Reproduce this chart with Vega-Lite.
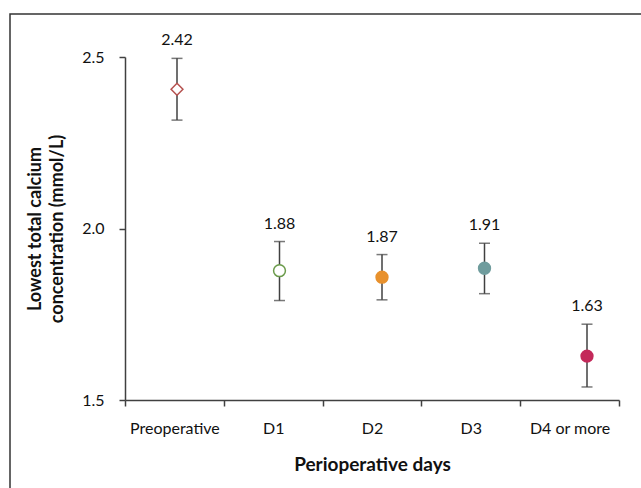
{
  "$schema": "https://vega.github.io/schema/vega-lite/v6.json",
  "autosize": "none",
  "padding": {"left": 10, "top": 14, "right": 0, "bottom": 0},
  "width": 640,
  "height": 480,
  "background": "white",
  "config": {
    "font": "Lato",
    "view": {"stroke": "#333333", "strokeWidth": 1.5}
  },
  "data": {
    "values": [
      {"day": "Preoperative", "mean": 2.406, "lo": 2.316, "hi": 2.496, "label": 2.42},
      {"day": "D1", "mean": 1.877, "lo": 1.790, "hi": 1.962, "label": 1.88},
      {"day": "D2", "mean": 1.858, "lo": 1.792, "hi": 1.924, "label": 1.87},
      {"day": "D3", "mean": 1.884, "lo": 1.810, "hi": 1.957, "label": 1.91},
      {"day": "D4 or more", "mean": 1.628, "lo": 1.538, "hi": 1.721, "label": 1.63}
    ]
  },
  "resolve": {"scale": {"x": "independent"}},
  "layer": [
    {
      "mark": {"type": "point", "opacity": 0},
      "encoding": {
        "x": {
          "field": "day", "type": "nominal", "sort": null,
          "scale": {"type": "band", "range": [115, 609], "paddingInner": 0, "paddingOuter": 0},
          "axis": {
            "title": "Perioperative days", "orient": "bottom", "offset": -94,
            "labelAngle": 0, "labelFontSize": 16, "labelColor": "#111111", "labelPadding": 14,
            "tickBand": "extent", "tickSize": 6, "tickColor": "#404040", "tickWidth": 1.5,
            "domainColor": "#404040", "domainWidth": 1.5, "grid": false,
            "titleFontSize": 19, "titleFontWeight": "bold", "titleColor": "#111111", "titlePadding": 19
          }
        },
        "y": {
          "field": "mean", "type": "quantitative",
          "scale": {"domain": [1.5, 2.5], "range": [386, 43], "zero": false, "nice": false},
          "axis": {
            "title": ["Lowest total calcium", "concentration (mmol/L)"], "orient": "left", "offset": -115,
            "values": [1.5, 2.0, 2.5], "format": ".1f",
            "labelFontSize": 16, "labelColor": "#111111", "labelPadding": 15,
            "tickSize": 6, "tickColor": "#404040", "tickWidth": 1.5,
            "domainColor": "#404040", "domainWidth": 1.5, "grid": false,
            "titleFontSize": 18, "titleFontWeight": "bold", "titleColor": "#111111", "titlePadding": 15, "titleLineHeight": 22
          }
        }
      }
    },
    {
      "encoding": {
        "x": {
          "field": "day", "type": "nominal", "sort": null,
          "scale": {"type": "point", "range": [167, 577], "padding": 0},
          "axis": null
        }
      },
      "layer": [
        {
          "mark": {"type": "rule", "color": "#404040", "strokeWidth": 1.5},
          "encoding": {
            "y": {"field": "lo", "type": "quantitative"},
            "y2": {"field": "hi"}
          }
        },
        {
          "mark": {"type": "tick", "color": "#404040", "size": 11, "thickness": 1.5, "orient": "horizontal"},
          "encoding": {"y": {"field": "lo", "type": "quantitative"}}
        },
        {
          "mark": {"type": "tick", "color": "#404040", "size": 11, "thickness": 1.5, "orient": "horizontal"},
          "encoding": {"y": {"field": "hi", "type": "quantitative"}}
        },
        {
          "mark": {"type": "point", "size": 140, "strokeWidth": 1.5, "opacity": 1, "filled": false},
          "encoding": {
            "y": {"field": "mean", "type": "quantitative"},
            "shape": {"field": "day", "type": "nominal", "legend": null,
              "scale": {"domain": ["Preoperative", "D1", "D2", "D3", "D4 or more"], "range": ["diamond", "circle", "circle", "circle", "circle"]}},
            "fill": {"field": "day", "type": "nominal", "legend": null,
              "scale": {"domain": ["Preoperative", "D1", "D2", "D3", "D4 or more"], "range": ["#ffffff", "#ffffff", "#E8912D", "#6F9C9D", "#C3295A"]}},
            "stroke": {"field": "day", "type": "nominal", "legend": null,
              "scale": {"domain": ["Preoperative", "D1", "D2", "D3", "D4 or more"], "range": ["#B5514F", "#6B9B4B", "#E8912D", "#6F9C9D", "#C3295A"]}}
          }
        },
        {
          "mark": {"type": "text", "fontSize": 16, "dy": -18, "baseline": "middle", "color": "#111111"},
          "encoding": {
            "y": {"field": "hi", "type": "quantitative"},
            "text": {"field": "label", "type": "quantitative", "format": ".2f"}
          }
        }
      ]
    }
  ]
}
